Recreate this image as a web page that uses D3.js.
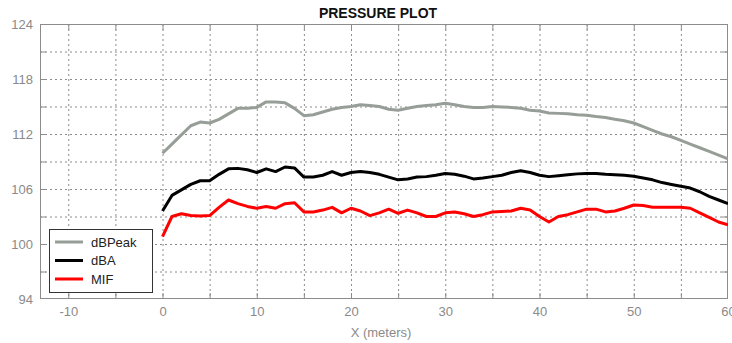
<!DOCTYPE html>
<html>
<head>
<meta charset="utf-8">
<script src="https://cdn.jsdelivr.net/npm/d3@7"></script>
<style>
  body { margin: 0; background: #fff; }
  text { font-family: "Liberation Sans", Arial, sans-serif; }
</style>
</head>
<body>
<svg id="chart" width="732" height="343"></svg>
<script>
// Distance along X in meters
var xs = d3.range(0, 61);

var dBPeak = [109.9, 110.9, 111.9, 112.9, 113.3, 113.2, 113.6, 114.2, 114.8, 114.8,
  114.9, 115.5, 115.5, 115.4, 114.8, 114.0, 114.1, 114.4, 114.7, 114.9,
  115.0, 115.2, 115.1, 115.0, 114.7, 114.6, 114.8, 115.0, 115.1, 115.2,
  115.35, 115.2, 115.0, 114.9, 114.9, 115.0, 114.95, 114.9, 114.8, 114.6,
  114.5, 114.3, 114.25, 114.2, 114.1, 114.05, 113.9, 113.8, 113.6, 113.45,
  113.2, 112.8, 112.4, 112.0, 111.7, 111.3, 110.9, 110.5, 110.1, 109.7, 109.3];

var dBA = [103.6, 105.3, 105.9, 106.5, 106.9, 106.9, 107.6, 108.2, 108.25, 108.1,
  107.8, 108.2, 107.9, 108.4, 108.3, 107.3, 107.3, 107.5, 107.9, 107.5,
  107.8, 107.9, 107.8, 107.6, 107.3, 107.0, 107.1, 107.3, 107.35, 107.5,
  107.7, 107.6, 107.4, 107.1, 107.2, 107.35, 107.5, 107.8, 108.0, 107.8,
  107.5, 107.35, 107.45, 107.55, 107.65, 107.7, 107.7, 107.6, 107.55, 107.5,
  107.4, 107.2, 107.0, 106.7, 106.5, 106.3, 106.1, 105.7, 105.2, 104.8, 104.4];

var MIF = [100.8, 103.0, 103.3, 103.1, 103.05, 103.1, 104.0, 104.8, 104.4, 104.1,
  103.9, 104.1, 103.9, 104.4, 104.5, 103.5, 103.5, 103.7, 104.0, 103.4,
  103.9, 103.6, 103.1, 103.4, 103.8, 103.35, 103.7, 103.4, 103.0, 103.0,
  103.4, 103.5, 103.3, 103.0, 103.2, 103.5, 103.55, 103.6, 103.9, 103.7,
  103.0, 102.4, 103.0, 103.2, 103.5, 103.8, 103.8, 103.5, 103.6, 103.9,
  104.25, 104.2, 104.0, 104.0, 104.0, 104.0, 103.9, 103.4, 102.9, 102.4, 102.1];

var seriesNames = ["dBPeak", "dBA", "MIF"];
var seriesColors = ["#979d97", "#000000", "#ff0000"];
var xTickLabels = [-10, 0, 10, 20, 30, 40, 50, 60];
var yTickLabels = [94, 100, 106, 112, 118, 124];
var xGrid = d3.range(-10, 60, 5);
var yGrid = d3.range(97, 124, 3);

var width = 732, height = 343;
var margin = {top: 24, right: 4, bottom: 44, left: 40};
var iw = width - margin.left - margin.right;
var ih = height - margin.top - margin.bottom;

var svg = d3.select("#chart");

var x = d3.scaleLinear().domain([-13, 60]).range([0, iw]);
var y = d3.scaleLinear().domain([94, 124]).range([ih, 0]);

var g = svg.append("g")
    .attr("transform", "translate(" + margin.left + "," + margin.top + ")");

svg.append("defs").append("clipPath").attr("id", "plotClip")
  .append("rect").attr("width", iw).attr("height", ih);

// Dotted grid
g.append("g")
    .attr("class", "grid")
    .call(d3.axisBottom(x).tickValues(xGrid).tickSize(ih).tickFormat(""))
    .call(function (s) {
        s.select(".domain").remove();
        s.selectAll("line").attr("stroke", "#8c8c8c").attr("stroke-dasharray", "2,3");
    });

g.append("g")
    .attr("class", "grid")
    .call(d3.axisRight(y).tickValues(yGrid).tickSize(iw).tickFormat(""))
    .call(function (s) {
        s.select(".domain").remove();
        s.selectAll("line").attr("stroke", "#8c8c8c").attr("stroke-dasharray", "2,3");
    });

// Inward tick marks on all four sides
function styleTicks(s) {
    s.select(".domain").remove();
    s.selectAll("line").attr("stroke", "#8c8c8c");
}
g.append("g").attr("transform", "translate(0," + ih + ")")
    .call(d3.axisTop(x).tickValues(xGrid).tickSize(6).tickFormat(""))
    .call(styleTicks);
g.append("g")
    .call(d3.axisBottom(x).tickValues(xGrid).tickSize(6).tickFormat(""))
    .call(styleTicks);
g.append("g")
    .call(d3.axisRight(y).tickValues(yGrid).tickSize(6).tickFormat(""))
    .call(styleTicks);
g.append("g").attr("transform", "translate(" + iw + ",0)")
    .call(d3.axisLeft(y).tickValues(yGrid).tickSize(6).tickFormat(""))
    .call(styleTicks);

// Tick labels (plain hyphen for negatives, like the original)
function plain(d) { return String(d); }
g.append("g").attr("transform", "translate(0," + ih + ")")
    .call(d3.axisBottom(x).tickValues(xTickLabels).tickSize(0).tickPadding(8).tickFormat(plain))
    .call(function (s) {
        s.select(".domain").remove();
        s.selectAll("text").attr("fill", "#8a8a8a").style("font-size", "13px")
            .style("font-family", "'Liberation Sans', Arial, sans-serif");
    });
g.append("g")
    .call(d3.axisLeft(y).tickValues(yTickLabels).tickSize(0).tickPadding(7).tickFormat(plain))
    .call(function (s) {
        s.select(".domain").remove();
        s.selectAll("text").attr("fill", "#8a8a8a").style("font-size", "13px")
            .style("font-family", "'Liberation Sans', Arial, sans-serif");
    });

// Frame
g.append("rect")
    .attr("x", 0.5).attr("y", 0.5)
    .attr("width", iw - 1).attr("height", ih - 1)
    .attr("fill", "none")
    .attr("stroke", "#8c8c8c");

// Lines
var line = d3.line()
    .x(function (d, i) { return x(xs[i]); })
    .y(function (d) { return y(d); });

var allSeries = [dBPeak, dBA, MIF];
var lines = g.append("g").attr("clip-path", "url(#plotClip)");
allSeries.forEach(function (vals, i) {
    lines.append("path")
        .datum(vals)
        .attr("d", line)
        .attr("fill", "none")
        .attr("stroke", seriesColors[i])
        .attr("stroke-width", 3)
        .attr("stroke-linejoin", "round");
});

// Title and axis label
svg.append("text")
    .attr("x", 378).attr("y", 18)
    .attr("text-anchor", "middle")
    .style("font-size", "14px")
    .style("font-weight", "bold")
    .attr("fill", "#111")
    .text("PRESSURE PLOT");

svg.append("text")
    .attr("x", 381).attr("y", 337)
    .attr("text-anchor", "middle")
    .style("font-size", "13px")
    .attr("fill", "#8a8a8a")
    .text("X (meters)");

// Legend
var legend = svg.append("g").attr("transform", "translate(49,229)");
legend.append("rect")
    .attr("x", 0.5).attr("y", 0.5)
    .attr("width", 103).attr("height", 63)
    .attr("fill", "#fff")
    .attr("stroke", "#333");

seriesNames.forEach(function (name, i) {
    var ly = 13 + i * 18.5;
    legend.append("line")
        .attr("x1", 6).attr("x2", 34)
        .attr("y1", ly).attr("y2", ly)
        .attr("stroke", seriesColors[i])
        .attr("stroke-width", 3);
    legend.append("text")
        .attr("x", 42).attr("y", ly + 4.5)
        .style("font-size", "13px")
        .attr("fill", "#222")
        .text(name);
});
</script>
</body>
</html>
